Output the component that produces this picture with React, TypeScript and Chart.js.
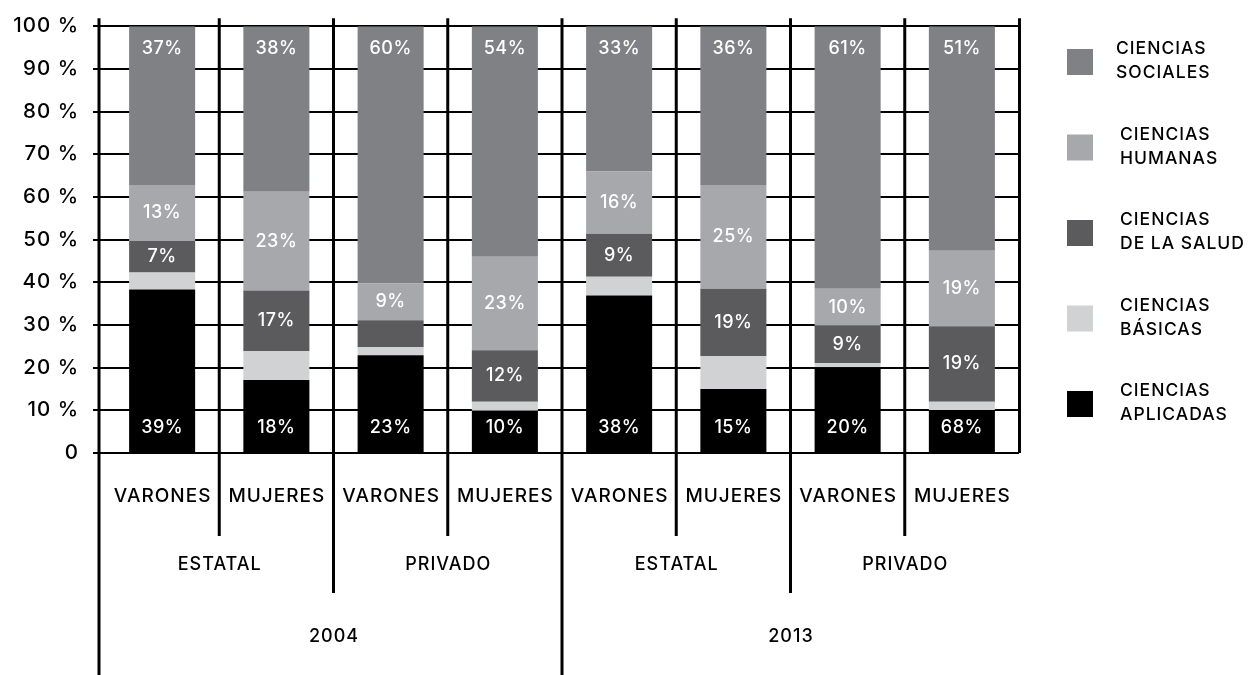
import React, { useEffect, useRef } from "react";
import { Chart, registerables } from "chart.js";

Chart.register(...registerables);

// ---- data ----
const genders = ["VARONES", "MUJERES", "VARONES", "MUJERES", "VARONES", "MUJERES", "VARONES", "MUJERES"];
const sectors = ["ESTATAL", "PRIVADO", "ESTATAL", "PRIVADO"];
const years = ["2004", "2013"];

const aplicadas = [38.3, 17.1, 22.9, 9.9, 36.9, 15.0, 20.1, 10.1];
const basicas = [4.0, 6.8, 1.9, 2.1, 4.4, 7.7, 1.0, 1.9];
const salud = [7.4, 14.2, 6.3, 12.1, 10.1, 15.8, 8.7, 17.7];
const humanas = [13.1, 23.1, 8.6, 21.9, 14.6, 24.3, 8.7, 17.7];
const sociales = [37.2, 38.8, 60.3, 54.0, 34.0, 37.2, 61.5, 52.6];

// printed labels (as they appear on the chart)
const aplicadasLabels = ["39%", "18%", "23%", "10%", "38%", "15%", "20%", "68%"];
const basicasLabels = [null, null, null, null, null, null, null, null];
const saludLabels = ["7%", "17%", null, "12%", "9%", "19%", "9%", "19%"];
const humanasLabels = ["13%", "23%", "9%", "23%", "16%", "25%", "10%", "19%"];
const socialesLabels = ["37%", "38%", "60%", "54%", "33%", "36%", "61%", "51%"];

const seriesNames = [
  ["CIENCIAS", "APLICADAS"],
  ["CIENCIAS", "BÁSICAS"],
  ["CIENCIAS", "DE LA SALUD"],
  ["CIENCIAS", "HUMANAS"],
  ["CIENCIAS", "SOCIALES"],
];
const yTicks = [0, 10, 20, 30, 40, 50, 60, 70, 80, 90, 100];

const COLORS = ["#000000", "#d1d2d4", "#5b5b5e", "#a7a8ab", "#808184"];
const FONT = "Inter, 'Open Sans', sans-serif";

const allValues = [aplicadas, basicas, salud, humanas, sociales];
const allLabels = [aplicadasLabels, basicasLabels, saludLabels, humanasLabels, socialesLabels];

const decorPlugin = {
  id: "decor",
  beforeDraw(chart: any) {
    (chart.ctx as any).letterSpacing = "1px";
  },
  afterDraw(chart: any) {
    const ctx = chart.ctx;
    const ca = chart.chartArea;
    const xs = chart.scales.x;
    const H = chart.height;
    const n = genders.length;
    const px = (i: number) => xs.getPixelForValue(i);

    ctx.save();
    // vertical separators
    ctx.strokeStyle = "#000";
    ctx.lineWidth = 3;
    for (let k = 0; k <= n; k++) {
      let x: number;
      if (k === 0) x = ca.left - 6;
      else if (k === n) x = ca.right + 0.5;
      else x = (px(k - 1) + px(k)) / 2;
      let bottom: number;
      if (k === n) bottom = ca.bottom;
      else if (k % 4 === 0) bottom = H;
      else if (k % 2 === 0) bottom = 593;
      else bottom = 536;
      ctx.beginPath();
      ctx.moveTo(x, ca.top - 8);
      ctx.lineTo(x, bottom);
      ctx.stroke();
    }

    // x labels (3 tiers)
    ctx.fillStyle = "#000";
    ctx.textAlign = "center";
    ctx.textBaseline = "middle";
    (ctx as any).letterSpacing = "1px";
    ctx.font = `500 19px ${FONT}`;
    genders.forEach((g, i) => ctx.fillText(g, px(i) + 0.5, 496));
    ctx.font = `500 18px ${FONT}`;
    sectors.forEach((s, i) => ctx.fillText(s, (px(2 * i) + px(2 * i + 1)) / 2 + 0.5, 565));
    years.forEach((y, i) => ctx.fillText(y, (px(4 * i) + px(4 * i + 3)) / 2 + 0.5, 637));

    // data labels
    ctx.fillStyle = "#fff";
    ctx.font = `500 18px ${FONT}`;
    (ctx as any).letterSpacing = "0.5px";
    allLabels.forEach((labels, d) => {
      const meta = chart.getDatasetMeta(d);
      labels.forEach((lab, i) => {
        if (!lab) return;
        const el = meta.data[i];
        const top = Math.min(el.y, el.base);
        const base = Math.max(el.y, el.base);
        let y: number;
        if (d === 4) y = top + 22;
        else if (d === 0) y = base - 24;
        else y = (top + base) / 2;
        ctx.fillText(lab, el.x, y);
      });
    });

    // legend (top to bottom: reversed series order)
    ctx.textAlign = "left";
    ctx.font = `500 17.5px ${FONT}`;
    (ctx as any).letterSpacing = "1px";
    const order = [4, 3, 2, 1, 0];
    order.forEach((d, j) => {
      const cy = 62 + j * 85.5;
      ctx.fillStyle = COLORS[d];
      ctx.fillRect(1067, cy - 13, 26, 26);
      ctx.fillStyle = "#000";
      const tx = j === 0 ? 1116 : 1120;
      ctx.fillText(seriesNames[d][0], tx, cy - 13);
      ctx.fillText(seriesNames[d][1], tx, cy + 11);
    });
    ctx.restore();
  },
};

export default function App() {
  const ref = useRef<HTMLCanvasElement | null>(null);
  useEffect(() => {
    if (!ref.current) return;
    const chart = new Chart(ref.current, {
      type: "bar",
      data: {
        labels: genders.map((g, i) => `${g}-${i}`),
        datasets: allValues.map((vals, d) => ({
          label: seriesNames[d].join(" "),
          data: vals,
          backgroundColor: COLORS[d],
          borderWidth: 0,
          barPercentage: 0.578,
          categoryPercentage: 1,
        })),
      },
      options: {
        responsive: false,
        animation: false,
        devicePixelRatio: 1,
        layout: { padding: { top: 25, right: 241, left: 0, bottom: 0 } },
        plugins: { legend: { display: false }, tooltip: { enabled: false } },
        scales: {
          x: {
            stacked: true,
            grid: { display: false },
            border: { display: false },
            ticks: { display: false },
            afterFit: (s: any) => {
              s.height = 222;
            },
          },
          y: {
            stacked: true,
            min: 0,
            max: 100,
            afterBuildTicks: (s: any) => {
              s.ticks = yTicks.map((v) => ({ value: v }));
            },
            afterFit: (s: any) => {
              s.width = 105;
            },
            border: { display: false },
            grid: { color: "#000", lineWidth: 2, tickLength: 12, drawTicks: true },
            ticks: {
              color: "#000",
              padding: 14,
              font: { family: FONT, size: 20.5, weight: "500" as any },
              callback: (v: any) => (Number(v) === 0 ? "0" : `${v} %`),
            },
          },
        },
      },
      plugins: [decorPlugin],
    });
    return () => chart.destroy();
  }, []);
  return (
    <div style={{ position: "fixed", left: 0, top: 0, width: 1260, height: 675, background: "#fff" }}>
      <canvas ref={ref} width={1260} height={675} style={{ width: 1260, height: 675, display: "block" }} />
    </div>
  );
}
